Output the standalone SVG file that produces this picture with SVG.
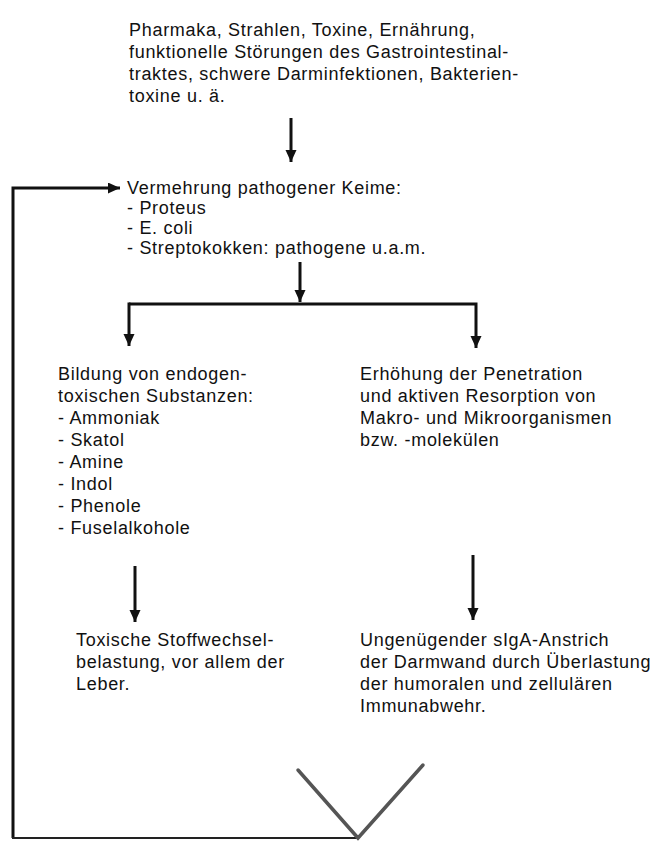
<svg xmlns="http://www.w3.org/2000/svg" width="665" height="843" viewBox="0 0 665 843">
<defs>
<style>
text{font-family:"Liberation Sans",Arial,sans-serif;font-size:18px;fill:#111;letter-spacing:0.7px}
.ln{stroke:#111;stroke-width:3;fill:none}
.thin{stroke:#222;stroke-width:2;fill:none}
.v{stroke:#555;stroke-width:3.5;fill:none;stroke-linecap:round}
</style>
<marker id="ah" markerUnits="userSpaceOnUse" markerWidth="14" markerHeight="14" refX="12" refY="5.5" orient="auto">
<path d="M0,0 L12,5.5 L0,11 Z" fill="#111"/>
</marker>
</defs>
<g id="connectors">
<line class="ln" x1="291" y1="118" x2="291" y2="162" marker-end="url(#ah)"/>
<polyline class="ln" points="13,838 13,188 120,188" marker-end="url(#ah)"/>
<line class="thin" x1="12" y1="838" x2="358" y2="838"/>
<line class="ln" x1="300" y1="262" x2="300" y2="302" marker-end="url(#ah)"/>
<polyline class="ln" points="129,304 476,304 476,348" marker-end="url(#ah)"/>
<line class="ln" x1="129" y1="302.5" x2="129" y2="346" marker-end="url(#ah)"/>
<line class="ln" x1="135" y1="566" x2="135" y2="622" marker-end="url(#ah)"/>
<line class="ln" x1="473" y1="555" x2="473" y2="620" marker-end="url(#ah)"/>
<polyline class="v" points="298,770 358,838 423,765"/>
</g>
<g id="n-causes">
<text x="129" y="36">Pharmaka, Strahlen, Toxine, Ernährung,</text>
<text x="129" y="58">funktionelle Störungen des Gastrointestinal-</text>
<text x="129" y="80">traktes, schwere Darminfektionen, Bakterien-</text>
<text x="129" y="102">toxine u. ä.</text>
</g>
<g id="n-keime">
<text x="127" y="194">Vermehrung pathogener Keime:</text>
<text x="127" y="214">- Proteus</text>
<text x="127" y="234">- E. coli</text>
<text x="127" y="254">- Streptokokken: pathogene u.a.m.</text>
</g>
<g id="n-bildung">
<text x="58" y="380">Bildung von endogen-</text>
<text x="58" y="402">toxischen Substanzen:</text>
<text x="58" y="424">- Ammoniak</text>
<text x="58" y="446">- Skatol</text>
<text x="58" y="468">- Amine</text>
<text x="58" y="490">- Indol</text>
<text x="58" y="512">- Phenole</text>
<text x="58" y="534">- Fuselalkohole</text>
</g>
<g id="n-penetration">
<text x="360" y="380">Erhöhung der Penetration</text>
<text x="360" y="402">und aktiven Resorption von</text>
<text x="360" y="424">Makro- und Mikroorganismen</text>
<text x="360" y="446">bzw. -molekülen</text>
</g>
<g id="n-toxisch">
<text x="76" y="646">Toxische Stoffwechsel-</text>
<text x="76" y="668">belastung, vor allem der</text>
<text x="76" y="690">Leber.</text>
</g>
<g id="n-siga">
<text x="360" y="646">Ungenügender sIgA-Anstrich</text>
<text x="360" y="668">der Darmwand durch Überlastung</text>
<text x="360" y="690">der humoralen und zellulären</text>
<text x="360" y="712">Immunabwehr.</text>
</g>
</svg>
